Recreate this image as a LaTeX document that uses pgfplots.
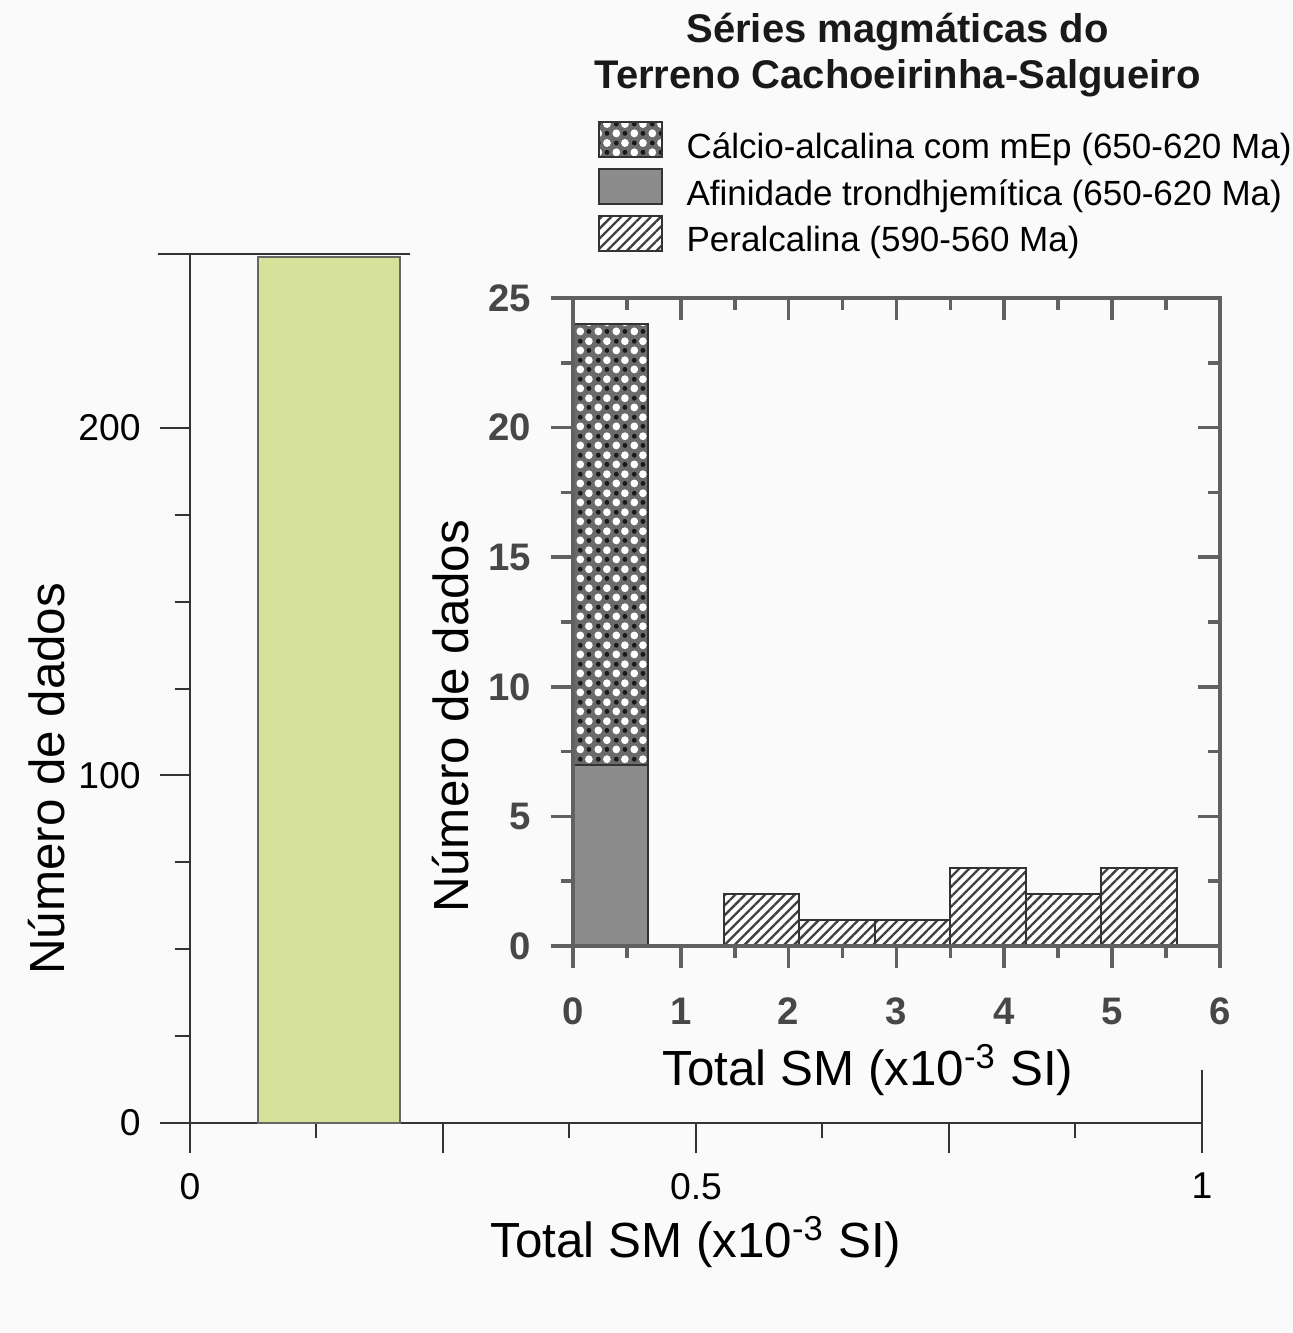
\documentclass[border=0pt]{standalone}
\usepackage{pgfplots}
\pgfplotsset{compat=1.18}
\usepackage{fontspec}
\setmainfont{Liberation Sans}
\usetikzlibrary{patterns,patterns.meta}

\definecolor{barGreen}{RGB}{214,226,153}
\definecolor{bgcol}{RGB}{250,250,250}

\pgfdeclarepattern{
  name=wdots, type=uncolored,
  bottom left={\pgfpoint{0pt}{0pt}},
  top right={\pgfpoint{5.4pt}{5.6pt}},
  tile size={\pgfpoint{5.4pt}{5.6pt}},
  code={\pgfpathcircle{\pgfpoint{1.35pt}{1.4pt}}{1.2pt}\pgfpathcircle{\pgfpoint{4.05pt}{4.2pt}}{1.2pt}\pgfusepath{fill}}
}
\pgfdeclarepattern{
  name=bdots, type=uncolored,
  bottom left={\pgfpoint{0pt}{0pt}},
  top right={\pgfpoint{5.4pt}{5.6pt}},
  tile size={\pgfpoint{5.4pt}{5.6pt}},
  code={\pgfpathcircle{\pgfpoint{4.05pt}{1.4pt}}{0.75pt}\pgfpathcircle{\pgfpoint{1.35pt}{4.2pt}}{0.75pt}\pgfusepath{fill}}
}

\tikzset{
  calcstyle/.style={draw=black!80, line width=0.6pt, fill=black!58,
    postaction={pattern=wdots, pattern color=white},
    postaction={pattern=bdots, pattern color=black!90}},
  trondstyle/.style={draw=black!80, line width=0.6pt, fill=black!45},
  peralstyle/.style={draw=black!80, line width=0.6pt, fill=white,
    postaction={pattern={Lines[angle=45,distance=2.1pt,line width=0.7pt]}, pattern color=black!75}},
}

\begin{document}
\begin{tikzpicture}
\path[use as bounding box] (0pt,0pt) rectangle (387.9pt,399.9pt);
\fill[bgcol] (0pt,0pt) rectangle (387.9pt,399.9pt);

% ---------- outer axis ----------
\begin{axis}[
  at={(57pt,63pt)}, anchor=south west,
  scale only axis, width=303.6pt, height=260.7pt,
  xmin=0, xmax=1, ymin=0, ymax=250,
  axis x line=bottom, axis y line=left,
  axis line style={-, draw=black!80, line width=0.6pt},
  tick style={draw=black!80, line width=0.6pt},
  tick align=outside,
  xtick={0,0.25,0.5,0.75,1}, xticklabels={0,,0.5,,1}, minor x tick num=1,
  ytick={0,100,200}, minor y tick num=3,
  major tick length=9pt, minor tick length=4.6pt,
  tick label style={font=\fontsize{11.2}{13}\selectfont},
  /pgf/number format/assume math mode=true,
  xticklabel style={yshift=-2.5pt}, yticklabel style={xshift=-2.3pt},
  xlabel={Total SM (x10\textsuperscript{-3} SI)},
  ylabel={Número de dados},
  label style={font=\fontsize{14.8}{17}\selectfont},
  xlabel style={at={(axis description cs:0.5,-0.137)}, anchor=center},
  ylabel style={at={(axis description cs:-0.1413,0.396)}, anchor=center},
  clip=false,
]
\addplot[ybar interval, fill=barGreen, draw=black!60, line width=0.6pt]
  coordinates {(0.067,249) (0.2075,249)};
\draw[black!80, line width=0.6pt] (axis cs:-0.0316,250) -- (axis cs:0.217,250);
\draw[black!80, line width=0.6pt] (axis cs:1,0) -- (axis cs:1,15.2);
\end{axis}

% ---------- inset axis ----------
\begin{axis}[
  at={(171.9pt,116.1pt)}, anchor=south west,
  scale only axis, width=194.1pt, height=194.4pt,
  xmin=0, xmax=6, ymin=0, ymax=25,
  xtick={0,1,...,6}, ytick={0,5,...,25},
  minor x tick num=1, minor y tick num=1,
  tick align=outside, xtick pos=left, ytick pos=left,
  major tick length=6.6pt, minor tick length=3.6pt,
  axis line style={line width=1.3pt, draw=black!62},
  tick style={line width=1.1pt, draw=black!62},
  tick label style={font=\bfseries\fontsize{11.5}{13}\selectfont, text=black!72},
  /pgf/number format/assume math mode=true,
  xticklabel style={yshift=-5.5pt}, yticklabel style={xshift=-2.5pt},
  xlabel={Total SM (x10\textsuperscript{-3} SI)},
  ylabel={Número de dados},
  label style={font=\fontsize{14.8}{17}\selectfont, text=black},
  xlabel style={at={(axis description cs:0.456,-0.191)}, anchor=center},
  ylabel style={at={(axis description cs:-0.189,0.355)}, anchor=center},
  legend image code/.code={\draw[#1] (0pt,-2.7pt) rectangle (18.9pt,7.8pt);},
  legend style={at={(axis description cs:0.037,1.2747)}, anchor=north west,
    draw=none, fill=none, inner sep=0pt, row sep=1.4pt, column sep=7.2pt,
    font=\fontsize{10.5}{12}\selectfont, nodes={inner sep=0pt}},
  legend cell align=left,
  clip=false,
]
\addplot[calcstyle, forget plot] coordinates {(0,7) (0,24) (0.7,24) (0.7,7)} -- cycle;
\addplot[ybar interval, trondstyle, forget plot] coordinates {(0,7) (0.7,7)};
\addplot[ybar interval, peralstyle, forget plot]
  coordinates {(1.4,2) (2.1,1) (2.8,1) (3.5,3) (4.2,2) (4.9,3) (5.6,3)};
\addlegendimage{calcstyle}
\addlegendentry{Cálcio-alcalina com mEp (650-620 Ma)}
\addlegendimage{trondstyle}
\addlegendentry{Afinidade trondhjemítica (650-620 Ma)}
\addlegendimage{peralstyle}
\addlegendentry{Peralcalina (590-560 Ma)}
\end{axis}

% overlay for inner ticks on top and right
\begin{axis}[
  at={(171.9pt,116.1pt)}, anchor=south west,
  scale only axis, width=194.1pt, height=194.4pt,
  xmin=0, xmax=6, ymin=0, ymax=25,
  xtick={0,1,...,6}, ytick={0,5,...,25},
  minor x tick num=1, minor y tick num=1,
  tick align=inside, xtick pos=right, ytick pos=right,
  major tick length=6.6pt, minor tick length=3.6pt,
  axis line style={line width=1.3pt, draw=black!62},
  tick style={line width=1.1pt, draw=black!62},
  xticklabels={}, yticklabels={},
]
\end{axis}

\node[align=center, font=\bfseries\fontsize{12}{13.8}\selectfont, text=black!90]
  at (269.3pt,383.4pt) {Séries magmáticas do\\Terreno Cachoeirinha-Salgueiro};
\end{tikzpicture}
\end{document}
